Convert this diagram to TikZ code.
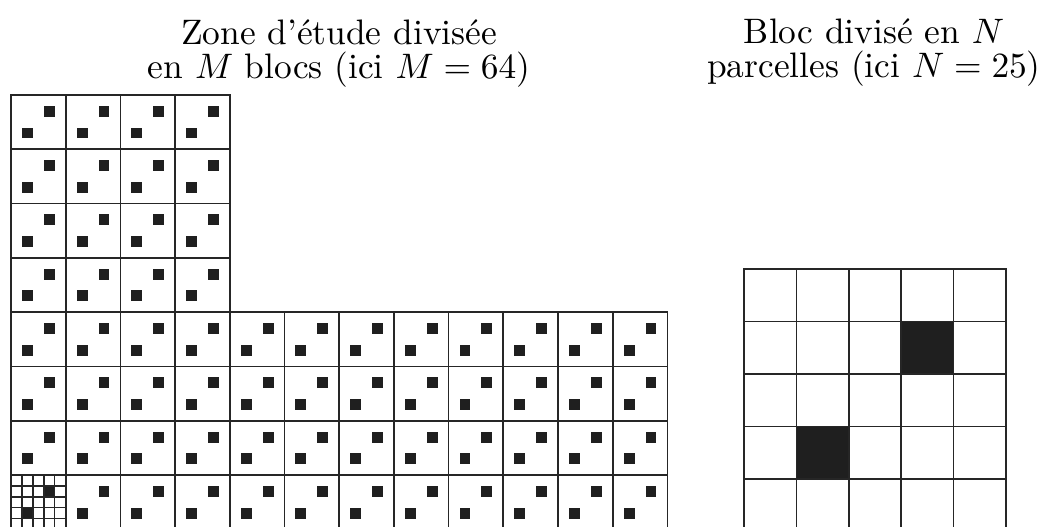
\documentclass[tikz,border=0pt]{standalone}
\begin{document}
\begin{tikzpicture}[x=1pt,y=-1pt,
  gl/.style={line width=1.7pt, draw=black!85},
  sgl/.style={line width=1.4pt, draw=black!85},
  dot/.style={fill=black!88},
  ttl/.style={scale=3.54, anchor=base, inner sep=0pt, font=\fontsize{10}{12}\selectfont}]
\useasboundingbox (0,0) rectangle (1047,527);
\clip (0,0) rectangle (1047,527);
\def\cw{54.7}\def\ch{54.3}
\def\ox{11}\def\oy{95}
% titles
\node[ttl] (t1a) at (339,44.5) {Zone d'étude divisée};
\node[ttl] (t1b) at (339,78.5) {en $M$ blocs (ici $M=64$)};
\node[ttl] (t2a) at (874,43.5) {Bloc divisé en $N$};
\node[ttl] (t2b) at (874,77.5) {parcelles (ici $N=25$)};
% blocks of the study zone
\foreach \i/\j in {0/0,1/0,2/0,3/0,0/1,1/1,2/1,3/1,0/2,1/2,2/2,3/2,0/3,1/3,2/3,3/3}{
  \pgfmathsetmacro{\x}{\ox+\i*\cw}\pgfmathsetmacro{\y}{\oy+\j*\ch}
  \fill[dot] (\x+0.6*\cw,\y+0.2*\ch) rectangle (\x+0.8*\cw,\y+0.4*\ch);
  \fill[dot] (\x+0.2*\cw,\y+0.6*\ch) rectangle (\x+0.4*\cw,\y+0.8*\ch);
  \draw[gl] (\x,\y) rectangle (\x+\cw,\y+\ch);
}
\foreach \i in {0,...,11}{
  \foreach \j in {4,...,7}{
    \pgfmathsetmacro{\x}{\ox+\i*\cw}\pgfmathsetmacro{\y}{\oy+\j*\ch}
    \fill[dot] (\x+0.6*\cw,\y+0.2*\ch) rectangle (\x+0.8*\cw,\y+0.4*\ch);
    \fill[dot] (\x+0.2*\cw,\y+0.6*\ch) rectangle (\x+0.4*\cw,\y+0.8*\ch);
    \draw[gl] (\x,\y) rectangle (\x+\cw,\y+\ch);
  }
}
% subdivided block (bottom left)
\pgfmathsetmacro{\sx}{\ox}\pgfmathsetmacro{\sy}{\oy+7*\ch}
\foreach \k in {1,...,4}{
  \draw[sgl] (\sx+\k*\cw/5,\sy) -- (\sx+\k*\cw/5,\sy+\ch);
  \draw[sgl] (\sx,\sy+\k*\ch/5) -- (\sx+\cw,\sy+\k*\ch/5);
}
% block divided into N parcels
\def\bw{52.4}\def\bh{52.5}
\def\bx{744}\def\by{269}
\fill[dot] (\bx+3*\bw,\by+1*\bh) rectangle (\bx+4*\bw,\by+2*\bh);
\fill[dot] (\bx+1*\bw,\by+3*\bh) rectangle (\bx+2*\bw,\by+4*\bh);
\foreach \i in {0,...,4}{
  \foreach \j in {0,...,4}{
    \draw[gl] (\bx+\i*\bw,\by+\j*\bh) rectangle (\bx+\i*\bw+\bw,\by+\j*\bh+\bh);
  }
}
\end{tikzpicture}
\end{document}
